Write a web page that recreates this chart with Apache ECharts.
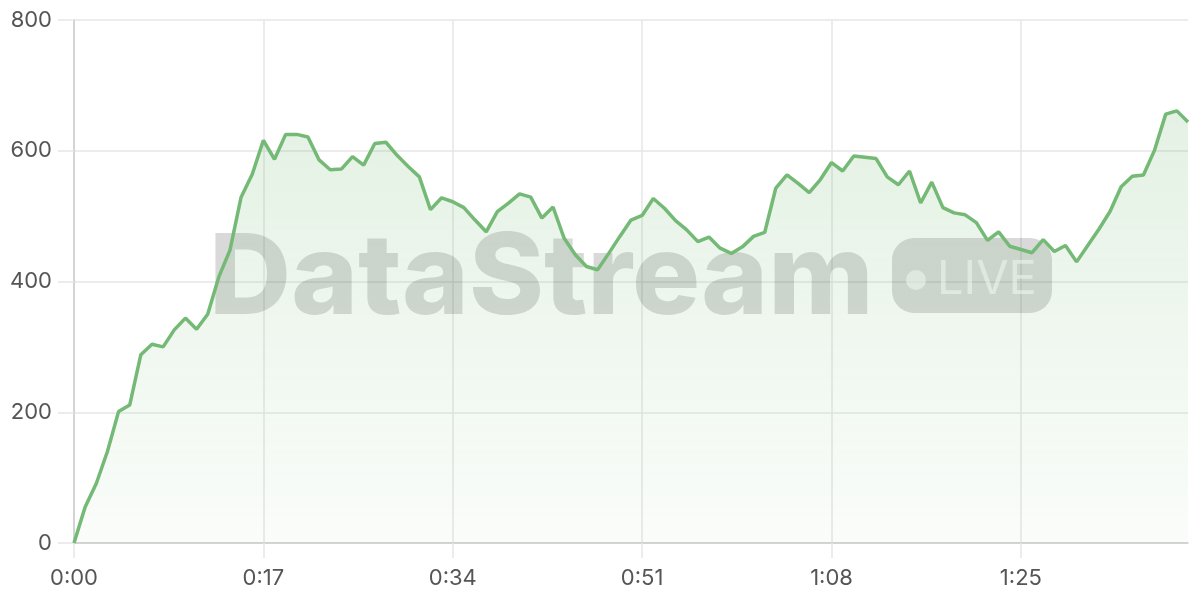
<!DOCTYPE html>
<html>
<head>
<meta charset="utf-8">
<script src="https://cdn.jsdelivr.net/npm/echarts@6/dist/echarts.min.js"></script>
<style>html,body{margin:0;padding:0;background:#fff}#c{width:1200px;height:600px}</style>
</head>
<body>
<div id="c"></div>
<script>
// seconds 0..100
const seconds = Array.from({length: 101}, (_, i) => i);
const timeLabels = seconds.map(s => Math.floor(s / 60) + ':' + String(s % 60).padStart(2, '0'));
const values = [
  0, 55, 91, 140, 201, 211, 288, 304, 300, 326,
  344, 327, 350, 407, 448, 529, 564, 616, 587, 625,
  625, 621, 586, 571, 572, 591, 578, 611, 613, 593,
  576, 560, 510, 528, 522, 513, 494, 476, 507, 520,
  534, 529, 497, 514, 466, 441, 423, 418, 443, 469,
  494, 501, 527, 512, 493, 479, 461, 468, 451, 443,
  453, 469, 475, 543, 563, 550, 536, 556, 582, 569,
  592, 590, 588, 560, 548, 569, 520, 552, 513, 505,
  502, 490, 463, 476, 454, 449, 444, 464, 446, 455,
  430, 455, 480, 507, 545, 561, 563, 601, 656, 661,
  644
];
const yTicks = [0, 200, 400, 600, 800];

const chart = echarts.init(document.getElementById('c'), null, {renderer: 'canvas'});
const font = 'Inter, "Noto Sans", sans-serif';
chart.setOption({
  animation: false,
  grid: {left: 74, right: 12, top: 20, bottom: 57, containLabel: false},
  xAxis: {
    type: 'category',
    data: timeLabels,
    boundaryGap: false,
    axisLine: {show: true, lineStyle: {color: '#cccccc', width: 1.5}},
    axisTick: {show: true, interval: 16, length: 15, lineStyle: {color: '#e6e6e6', width: 1.5}},
    axisLabel: {interval: 16, color: '#555', fontSize: 22, fontFamily: font, margin: 24},
    splitLine: {show: true, interval: 16, lineStyle: {color: '#e6e6e6', width: 1.5}}
  },
  yAxis: {
    type: 'value',
    min: yTicks[0], max: yTicks[yTicks.length - 1], interval: 200,
    axisLine: {show: true, lineStyle: {color: '#cccccc', width: 1.5}},
    axisTick: {show: true, length: 16, lineStyle: {color: '#e6e6e6', width: 1.5}},
    axisLabel: {color: '#555', fontSize: 22, fontFamily: font, margin: 22},
    splitLine: {show: true, lineStyle: {color: '#e6e6e6', width: 1.5}}
  },
  graphic: [
    {
      type: 'text', z: 1, left: 209, top: 224, scaleX: 1.015,
      style: {text: 'DataStream', font: '800 112px Inter, sans-serif', fill: 'rgba(0,0,0,0.15)'}
    },
    {
      type: 'rect', z: 1, shape: {x: 892, y: 238, width: 160, height: 75, r: 22},
      style: {fill: 'rgba(0,0,0,0.15)'}
    },
    {
      type: 'circle', z: 1, shape: {cx: 916, cy: 280, r: 10},
      style: {fill: 'rgba(255,255,255,0.6)'}
    },
    {
      type: 'text', z: 1, left: 937, top: 256,
      style: {text: 'LIVE', font: '400 47px Inter, sans-serif', fill: 'rgba(255,255,255,0.6)'}
    }
  ],
  series: [{
    type: 'line',
    data: values,
    symbol: 'none',
    z: 3,
    lineStyle: {color: '#74b975', width: 3.5},
    areaStyle: {
      color: new echarts.graphic.LinearGradient(0, 0, 0, 1, [
        {offset: 0, color: 'rgba(116,185,117,0.28)'},
        {offset: 1, color: 'rgba(116,185,117,0.05)'}
      ])
    }
  }]
});
</script>
</body>
</html>
